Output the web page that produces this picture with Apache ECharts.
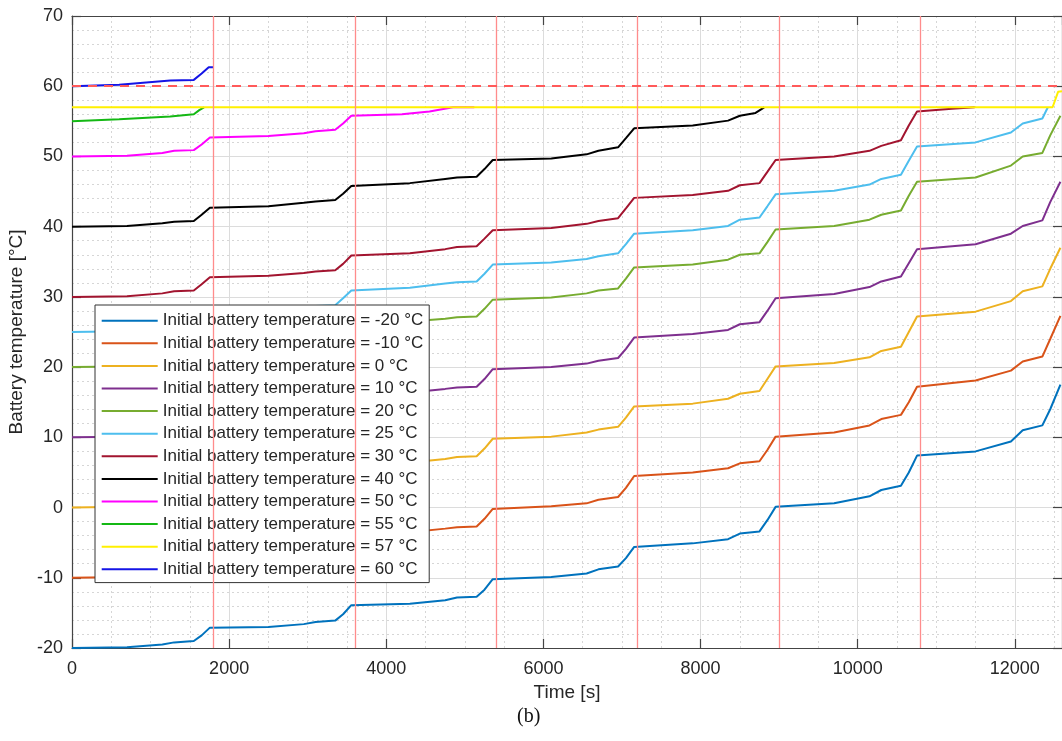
<!DOCTYPE html>
<html>
<head>
<meta charset="utf-8">
<script src="https://cdn.jsdelivr.net/npm/echarts@6/dist/echarts.min.js"></script>
<style>
  html, body { margin: 0; padding: 0; background: #fff; }
  #main { width: 1062px; height: 741px; }
</style>
</head>
<body>
<div id="main"></div>
<script>
// readings from the figure: [time s, temperature °C]
const tMinus20 = [
  [0, -20], [700, -19.9], [1150, -19.5], [1300, -19.2], [1550, -19.0], [1650, -18.2], [1755, -17.1],
  [2500, -17.0], [2950, -16.6], [3100, -16.3], [3350, -16.1], [3450, -15.2], [3555, -13.9],
  [4300, -13.7], [4750, -13.2], [4900, -12.8], [5150, -12.7], [5250, -11.7], [5355, -10.2],
  [6100, -9.9], [6550, -9.4], [6700, -8.8], [6950, -8.4], [7050, -7.2], [7155, -5.6],
  [7900, -5.1], [8350, -4.5], [8500, -3.7], [8750, -3.4], [8850, -1.8], [8955, 0.1],
  [9700, 0.6], [10150, 1.6], [10300, 2.5], [10550, 3.1], [10650, 5.0], [10755, 7.4],
  [11500, 8.0], [11950, 9.4], [12100, 11.0], [12350, 11.7], [12450, 14.0], [12580, 17.5]
]
const tMinus10 = [
  [0, -10], [700, -9.9], [1150, -9.5], [1300, -9.2], [1550, -9.0], [1650, -8.1], [1755, -7.0],
  [2500, -6.9], [2950, -6.4], [3100, -6.1], [3350, -5.9], [3450, -5.0], [3555, -3.7],
  [4300, -3.5], [4750, -3.0], [4900, -2.8], [5150, -2.7], [5250, -1.6], [5355, -0.2],
  [6100, 0.2], [6550, 0.6], [6700, 1.1], [6950, 1.5], [7050, 2.8], [7155, 4.5],
  [7900, 5.0], [8350, 5.6], [8500, 6.3], [8750, 6.6], [8850, 8.2], [8955, 10.1],
  [9700, 10.7], [10150, 11.7], [10300, 12.6], [10550, 13.2], [10650, 15.0], [10755, 17.2],
  [11500, 18.1], [11950, 19.5], [12100, 20.8], [12350, 21.5], [12450, 24.0], [12580, 27.3]
]
const t0 = [
  [0, 0], [700, 0.1], [1150, 0.5], [1300, 0.8], [1550, 1.0], [1650, 1.9], [1755, 3.0],
  [2500, 3.1], [2950, 3.6], [3100, 3.9], [3350, 4.1], [3450, 5.0], [3555, 6.2],
  [4300, 6.4], [4750, 6.9], [4900, 7.2], [5150, 7.3], [5250, 8.4], [5355, 9.8],
  [6100, 10.1], [6550, 10.7], [6700, 11.1], [6950, 11.5], [7050, 12.8], [7155, 14.4],
  [7900, 14.8], [8350, 15.5], [8500, 16.2], [8750, 16.6], [8850, 18.3], [8955, 20.1],
  [9700, 20.6], [10150, 21.4], [10300, 22.3], [10550, 22.9], [10650, 25.0], [10755, 27.2],
  [11500, 27.9], [11950, 29.4], [12100, 30.8], [12350, 31.5], [12450, 34.0], [12580, 37.0]
]
const t10 = [
  [0, 10], [700, 10.1], [1150, 10.5], [1300, 10.8], [1550, 11.0], [1650, 11.9], [1755, 13.0],
  [2500, 13.1], [2950, 13.6], [3100, 13.9], [3350, 14.1], [3450, 15.0], [3555, 16.2],
  [4300, 16.4], [4750, 16.9], [4900, 17.1], [5150, 17.2], [5250, 18.3], [5355, 19.7],
  [6100, 20.0], [6550, 20.5], [6700, 20.9], [6950, 21.3], [7050, 22.6], [7155, 24.2],
  [7900, 24.7], [8350, 25.3], [8500, 26.1], [8750, 26.4], [8850, 28.0], [8955, 29.8],
  [9700, 30.4], [10150, 31.4], [10300, 32.2], [10550, 32.9], [10650, 34.8], [10755, 36.8],
  [11500, 37.5], [11950, 39.0], [12100, 40.1], [12350, 40.9], [12450, 43.5], [12580, 46.4]
]
const t20 = [
  [0, 20], [700, 20.1], [1150, 20.5], [1300, 20.8], [1550, 21.0], [1650, 21.9], [1755, 23.0],
  [2500, 23.2], [2950, 23.7], [3100, 24.0], [3350, 24.2], [3450, 25.1], [3555, 26.3],
  [4300, 26.5], [4750, 26.9], [4900, 27.1], [5150, 27.2], [5250, 28.3], [5355, 29.6],
  [6100, 29.9], [6550, 30.5], [6700, 30.9], [6950, 31.2], [7050, 32.6], [7155, 34.2],
  [7900, 34.6], [8350, 35.3], [8500, 36.0], [8750, 36.2], [8850, 37.8], [8955, 39.6],
  [9700, 40.1], [10150, 41.0], [10300, 41.7], [10550, 42.3], [10650, 44.4], [10755, 46.4],
  [11500, 47.0], [11950, 48.7], [12100, 50.0], [12350, 50.5], [12450, 53.0], [12580, 55.8]
]
const t25 = [
  [0, 25], [700, 25.1], [1150, 25.5], [1300, 25.8], [1550, 26.0], [1650, 26.9], [1755, 28.0],
  [2500, 28.2], [2950, 28.6], [3100, 28.7], [3350, 28.8], [3450, 29.8], [3555, 30.9],
  [4300, 31.3], [4750, 31.9], [4900, 32.1], [5150, 32.2], [5250, 33.3], [5355, 34.6],
  [6100, 34.9], [6550, 35.4], [6700, 35.8], [6950, 36.2], [7050, 37.5], [7155, 39.0],
  [7900, 39.5], [8350, 40.1], [8500, 41.0], [8750, 41.3], [8850, 42.9], [8955, 44.6],
  [9700, 45.1], [10150, 46.0], [10300, 46.8], [10550, 47.4], [10650, 49.4], [10755, 51.4],
  [11500, 52.0], [11950, 53.4], [12100, 54.7], [12350, 55.4], [12420, 57.0]
]
const t30 = [
  [0, 30], [700, 30.1], [1150, 30.5], [1300, 30.8], [1550, 30.9], [1650, 31.8], [1755, 32.8],
  [2500, 33.0], [2950, 33.4], [3100, 33.6], [3350, 33.8], [3450, 34.7], [3555, 35.9],
  [4300, 36.2], [4750, 36.8], [4900, 37.1], [5150, 37.2], [5250, 38.3], [5355, 39.5],
  [6100, 39.8], [6550, 40.4], [6700, 40.8], [6950, 41.2], [7050, 42.6], [7155, 44.1],
  [7900, 44.5], [8350, 45.1], [8500, 45.9], [8750, 46.2], [8850, 47.8], [8955, 49.5],
  [9700, 50.0], [10150, 50.8], [10300, 51.5], [10550, 52.3], [10650, 54.4], [10755, 56.4],
  [11200, 56.8], [11490, 57.0]
]
const t40 = [
  [0, 40], [700, 40.1], [1150, 40.5], [1300, 40.7], [1550, 40.8], [1650, 41.7], [1755, 42.7],
  [2500, 42.9], [2950, 43.4], [3100, 43.6], [3350, 43.8], [3450, 44.7], [3555, 45.8],
  [4300, 46.2], [4750, 46.8], [4900, 47.0], [5150, 47.1], [5250, 48.2], [5355, 49.5],
  [6100, 49.7], [6550, 50.3], [6700, 50.8], [6950, 51.3], [7050, 52.6], [7155, 54.0],
  [7900, 54.4], [8350, 55.1], [8500, 55.8], [8700, 56.2], [8810, 57.0]
]
const t50 = [
  [0, 50], [700, 50.1], [1150, 50.5], [1300, 50.8], [1550, 50.9], [1650, 51.7], [1755, 52.7],
  [2500, 52.9], [2950, 53.3], [3100, 53.6], [3350, 53.8], [3450, 54.7], [3555, 55.8],
  [4200, 56.0], [4550, 56.4], [4850, 57.0], [5120, 57.0]
]
const t55 = [[0, 55], [600, 55.3], [1250, 55.7], [1550, 56.0], [1620, 56.6], [1680, 57.0]]
const t57 = [[0, 57], [12480, 57.0], [12550, 59.2], [12600, 59.3]]
const t60 = [[0, 60], [600, 60.2], [1250, 60.8], [1550, 60.9], [1650, 61.8], [1740, 62.7], [1800, 62.7]]

const initTemps = ['-20', '-10', '0', '10', '20', '25', '30', '40', '50', '55', '57', '60']
const seriesData = [tMinus20, tMinus10, t0, t10, t20, t25, t30, t40, t50, t55, t57, t60]
const colors = ['#0072BD', '#D95319', '#EDB120', '#7E2F8E', '#77AC30', '#4DBEEE',
  '#A2142F', '#000000', '#FF00FF', '#14B814', '#FFF000', '#1414E6']

const cycleEnds = [1800, 3600, 5400, 7200, 9000, 10800]
const limitTemp = 60

const font = 'Liberation Sans, Arial, Helvetica, sans-serif'
const names = initTemps.map(t => 'Initial battery temperature = ' + t + ' °C')

const chart = echarts.init(document.getElementById('main'))

const series = names.map((n, i) => ({
  name: n,
  type: 'line',
  data: seriesData[i],
  showSymbol: false,
  symbol: 'none',
  lineStyle: { width: 2, color: colors[i] },
  itemStyle: { color: colors[i] },
  z: 3
}))

series.push({
  name: 'refs',
  type: 'line',
  data: [],
  z: 4,
  markLine: {
    silent: true,
    symbol: 'none',
    label: { show: false },
    data: cycleEnds.map(x => ({ xAxis: x, lineStyle: { color: '#ff8c8c', width: 1.3, type: 'solid' } }))
      .concat([{ yAxis: limitTemp, lineStyle: { color: '#ff5a5a', width: 2, type: [9, 7] } }])
  }
})

const tickStyle = { inside: true, length: 9, lineStyle: { color: '#444', width: 1.2 } }
const plain = v => String(v)

chart.setOption({
  animation: false,
  grid: { left: 72, right: 0, top: 16, bottom: 93, outerBoundsMode: 'none', containLabel: false },
  legend: {
    data: names,
    orient: 'vertical',
    left: 95,
    top: 305,
    itemWidth: 56,
    itemHeight: 14,
    itemGap: 5.6,
    padding: [7.2, 6, 4.8, 5.7],
    borderColor: '#333',
    borderWidth: 1,
    backgroundColor: '#fff',
    itemStyle: { opacity: 0 },
    textStyle: { fontFamily: font, fontSize: 17, color: '#262626' }
  },
  xAxis: [
    {
      type: 'value',
      min: 0,
      max: 12600,
      interval: 2000,
      name: 'Time [s]',
      nameLocation: 'middle',
      nameGap: 33,
      nameTextStyle: { fontFamily: font, fontSize: 19, color: '#262626' },
      axisLine: { show: true, onZero: false, lineStyle: { color: '#444', width: 1.2 } },
      axisTick: tickStyle,
      axisLabel: { fontFamily: font, fontSize: 18, color: '#262626', margin: 12, showMaxLabel: false, formatter: plain },
      splitLine: { show: true, lineStyle: { color: '#dcdcdc', width: 1 } },
      minorTick: { show: false, splitNumber: 4 },
      minorSplitLine: { show: true, lineStyle: { color: '#d6d6d6', width: 1, type: [2, 3] } }
    },
    {
      type: 'value',
      position: 'top',
      min: 0,
      max: 12600,
      interval: 2000,
      axisLine: { show: true, onZero: false, lineStyle: { color: '#444', width: 1.2 } },
      axisTick: tickStyle,
      axisLabel: { show: false },
      splitLine: { show: false }
    }
  ],
  yAxis: [
    {
      type: 'value',
      min: -20,
      max: 70,
      interval: 10,
      name: 'Battery temperature [°C]',
      nameLocation: 'middle',
      nameGap: 45,
      nameTextStyle: { fontFamily: font, fontSize: 19, color: '#262626' },
      axisLine: { show: true, onZero: false, lineStyle: { color: '#444', width: 1.2 } },
      axisTick: tickStyle,
      axisLabel: { fontFamily: font, fontSize: 18, color: '#262626', margin: 9, formatter: plain },
      splitLine: { show: true, lineStyle: { color: '#dcdcdc', width: 1 } },
      minorTick: { show: false, splitNumber: 5 },
      minorSplitLine: { show: true, lineStyle: { color: '#d6d6d6', width: 1, type: [2, 3] } }
    },
    {
      type: 'value',
      position: 'right',
      min: -20,
      max: 70,
      interval: 10,
      axisLine: { show: true, onZero: false, lineStyle: { color: '#444', width: 1.2 } },
      axisTick: tickStyle,
      axisLabel: { show: false },
      splitLine: { show: false }
    }
  ],
  graphic: [
    {
      type: 'text',
      left: 517,
      top: 707,
      style: { text: '(b)', font: '20px "Liberation Serif", "Times New Roman", serif', fill: '#111' }
    }
  ],
  series: series
})
</script>
</body>
</html>
